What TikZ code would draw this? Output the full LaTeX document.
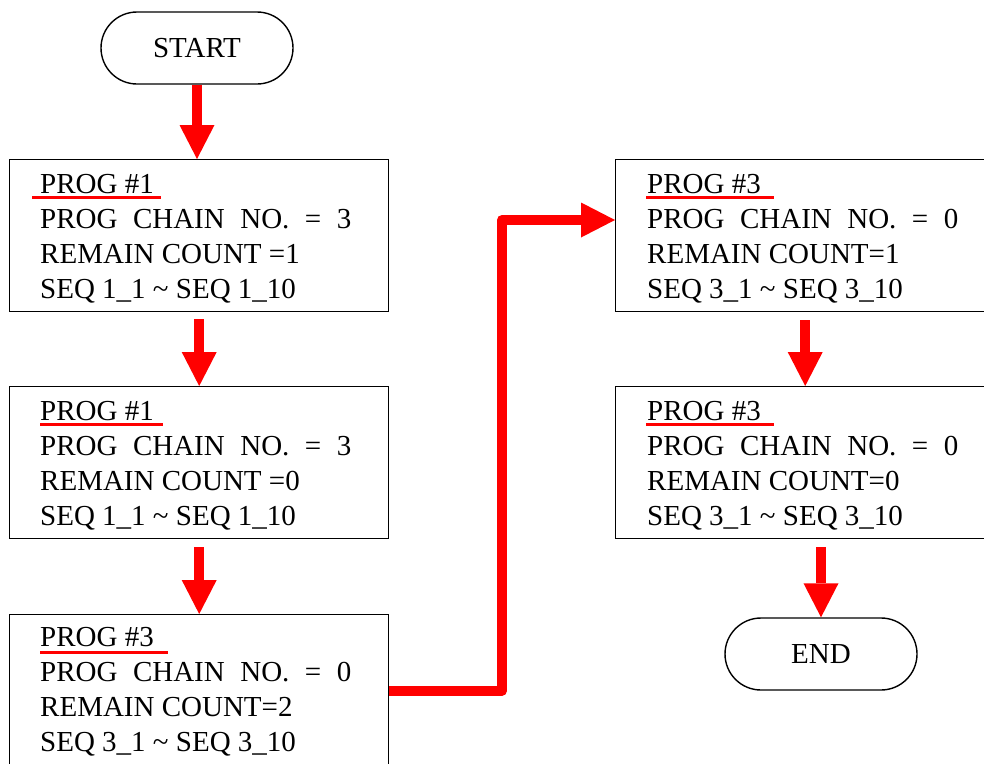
\documentclass[tikz,border=0pt]{standalone}
\usepackage{fontspec}
\setmainfont{Liberation Serif}
\usetikzlibrary{arrows.meta,calc}
\newcommand\dsp{\hspace{15.5pt}}
\begin{document}
\begin{tikzpicture}[x=1pt,y=-1pt,
  txt/.style={font=\fontsize{29}{35}\selectfont},
  term/.style={draw, line width=1.4pt, rounded corners=36pt, minimum width=192pt, minimum height=72pt, inner sep=0pt, txt},
  progbox/.style={draw, line width=1.4pt, minimum width=379pt, minimum height=152pt, inner sep=0pt, anchor=north west},
  progtext/.style={txt, align=left, inner sep=0pt, anchor=north west},
  uline/.style={red, line width=3pt},
  bigarrow/.style={red, line width=10pt, -{Triangle[length=34pt,width=35pt,line width=0pt]}},
  elbow/.style={red, line width=10pt, line join=round, -{Triangle[length=34pt,width=35pt,line width=0pt]}}
]
\useasboundingbox (0,0) rectangle (984,763);

% terminals
\node[term] (start) at (197,48) {START};
\node[term] (end) at (821,654) {END};

% boxes
\node[progbox] (b1) at (9,159) {};
\node[progbox] (b2) at (9,386) {};
\node[progbox] (b3) at (9,614) {};
\node[progbox] (b4) at (615,159) {};
\node[progbox] (b5) at (615,386) {};

% texts
\node[progtext] (t1) at ($(b1.north west)+(31,9.5)$) {\strut PROG \#1\\PROG\dsp CHAIN\dsp NO.\dsp =\dsp 3\\REMAIN COUNT =1\\SEQ 1\_1 \textasciitilde{} SEQ 1\_10};
\node[progtext] (t2) at ($(b2.north west)+(31,9.5)$) {\strut PROG \#1\\PROG\dsp CHAIN\dsp NO.\dsp =\dsp 3\\REMAIN COUNT =0\\SEQ 1\_1 \textasciitilde{} SEQ 1\_10};
\node[progtext] (t3) at ($(b3.north west)+(31,8)$) {\strut PROG \#3\\PROG\dsp CHAIN\dsp NO.\dsp =\dsp 0\\REMAIN COUNT=2\\SEQ 3\_1 \textasciitilde{} SEQ 3\_10};
\node[progtext] (t4) at ($(b4.north west)+(32,9.5)$) {\strut PROG \#3\\PROG\dsp CHAIN\dsp NO.\dsp =\dsp 0\\REMAIN COUNT=1\\SEQ 3\_1 \textasciitilde{} SEQ 3\_10};
\node[progtext] (t5) at ($(b5.north west)+(32,9.5)$) {\strut PROG \#3\\PROG\dsp CHAIN\dsp NO.\dsp =\dsp 0\\REMAIN COUNT=0\\SEQ 3\_1 \textasciitilde{} SEQ 3\_10};

% underlines
\draw[uline] ($(b1.north west)+(23,38)$) -- ($(b1.north west)+(152,38)$);
\draw[uline] ($(b2.north west)+(31,38)$) -- ($(b2.north west)+(154,38)$);
\draw[uline] ($(b3.north west)+(31,38)$) -- ($(b3.north west)+(159,38)$);
\draw[uline] ($(b4.north west)+(31,38)$) -- ($(b4.north west)+(159,38)$);
\draw[uline] ($(b5.north west)+(31,38)$) -- ($(b5.north west)+(159,38)$);

% connectors
\draw[bigarrow] (start.south) -- (start.south |- b1.north);
\draw[bigarrow] ([yshift=-7pt]b1.south) -- (b2.north);
\draw[bigarrow] ([yshift=-8pt]b2.south) -- (b3.north);
\draw[bigarrow] ([yshift=-8pt]b4.south) -- (b5.north);
\draw[bigarrow] ([yshift=-8pt]end.north |- b5.south) -- (end.north);
\coordinate (k) at (502,220);
\draw[elbow] (b3.east) -| (k) -- (k -| b4.west);
\end{tikzpicture}
\end{document}
